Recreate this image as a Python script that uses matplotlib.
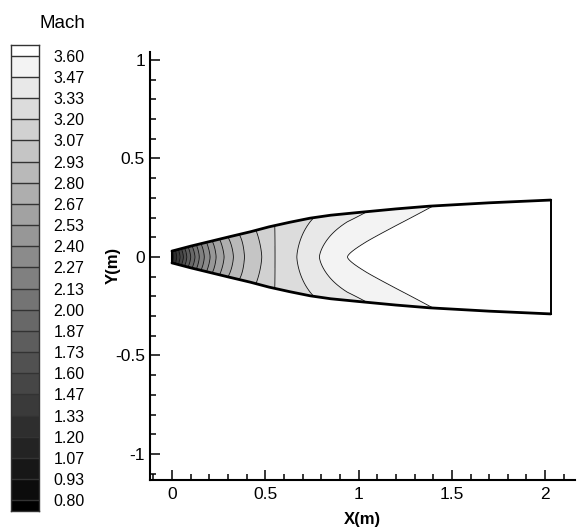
import numpy as np
import matplotlib
matplotlib.use('Agg')
import matplotlib.pyplot as plt
from matplotlib.colors import ListedColormap, BoundaryNorm
from matplotlib.ticker import MultipleLocator, FormatStrFormatter

plt.rcParams['font.family'] = ['Liberation Sans', 'DejaVu Sans']
plt.rcParams['axes.unicode_minus'] = False

# ---------------- data ----------------
mach_levels = [0.8000, 0.9333, 1.0667, 1.2000, 1.3333, 1.4667, 1.6000, 1.7333,
               1.8667, 2.0000, 2.1333, 2.2667, 2.4000, 2.5333, 2.6667, 2.8000,
               2.9333, 3.0667, 3.2000, 3.3333, 3.4667, 3.6000]
level_labels = ["0.80", "0.93", "1.07", "1.20", "1.33", "1.47", "1.60", "1.73",
                "1.87", "2.00", "2.13", "2.27", "2.40", "2.53", "2.67", "2.80",
                "2.93", "3.07", "3.20", "3.33", "3.47", "3.60"]

# nozzle wall (upper half, symmetric)
wall_x = [0.0, 0.10, 0.20, 0.30, 0.42, 0.52, 0.63, 0.74, 0.85, 1.00, 1.20, 1.38, 1.70, 2.03]
wall_y = [0.030, 0.055, 0.078, 0.101, 0.128, 0.153, 0.176, 0.197, 0.212, 0.226,
          0.244, 0.258, 0.275, 0.289]

# x where each contour level 1.20 ... 3.60 crosses the centreline / meets the wall
line_levels = mach_levels[3:]
center_cross_x = [0.007, 0.025, 0.043, 0.061, 0.079, 0.100, 0.123, 0.146, 0.173,
                  0.204, 0.236, 0.279, 0.329, 0.388, 0.481, 0.552, 0.669, 0.790, 0.940]
wall_cross_x = [0.003, 0.018, 0.034, 0.050, 0.067, 0.086, 0.107, 0.130, 0.155,
                0.185, 0.215, 0.255, 0.300, 0.360, 0.450, 0.550, 0.760, 1.045, 1.400]
inlet_mach = 1.13
outlet_mach = 3.95

x_ticks = [0, 0.5, 1, 1.5, 2]
y_ticks = [-1, -0.5, 0, 0.5, 1]

# ---------------- field on the nozzle grid ----------------
x_end = wall_x[-1]
xg = np.linspace(0.0, x_end, 600)
eta = np.linspace(-1.0, 1.0, 241)
h = np.interp(xg, wall_x, wall_y)
Mc = np.interp(xg, [0.0] + center_cross_x + [x_end], [inlet_mach] + line_levels + [outlet_mach])
Mw = np.interp(xg, [0.0] + wall_cross_x + [x_end], [inlet_mach] + line_levels + [outlet_mach])
XX, EE = np.meshgrid(xg, eta)
YY = EE * h[None, :]
MM = Mc[None, :] + (Mw - Mc)[None, :] * np.abs(EE) ** 1.5

# grey bands: black below lowest level, white above highest
n_bands = len(mach_levels) + 1
greys = [str(i / (n_bands - 1)) for i in range(n_bands)]
cmap = ListedColormap(greys[1:-1])
cmap.set_under(greys[0])
cmap.set_over(greys[-1])
norm = BoundaryNorm(mach_levels, cmap.N)

fig = plt.figure(figsize=(5.78, 5.31), dpi=100)
ax = fig.add_axes([150 / 578, 1 - 479.6 / 531, 425 / 578, 427.5 / 531])

ax.contourf(XX, YY, MM, levels=mach_levels, cmap=cmap, norm=norm, extend='both')
ax.contour(XX, YY, MM, levels=mach_levels, colors='#111111', linewidths=0.6)

wx = np.array(wall_x)
wy = np.array(wall_y)
ax.plot(wx, wy, color='black', lw=2.0, solid_capstyle='round')
ax.plot(wx, -wy, color='black', lw=2.0, solid_capstyle='round')
ax.plot([x_end, x_end], [-wy[-1], wy[-1]], color='black', lw=1.4)
ax.plot([wx[0], wx[0]], [-wy[0], wy[0]], color='black', lw=1.5)

ax.set_xlim(-0.118, 2.16)
ax.set_ylim(-1.13, 1.04)
ax.set_xticks(x_ticks)
ax.set_yticks(y_ticks)
ax.xaxis.set_major_formatter(FormatStrFormatter('%g'))
ax.yaxis.set_major_formatter(FormatStrFormatter('%g'))
ax.xaxis.set_minor_locator(MultipleLocator(0.1))
ax.yaxis.set_minor_locator(MultipleLocator(0.1))
ax.tick_params(which='both', direction='in', width=1.1, colors='black', labelsize=12.5)
ax.tick_params(which='major', length=7.2)
ax.tick_params(which='minor', length=4.3)
ax.tick_params(axis='y', pad=3.6)
ax.tick_params(axis='x', pad=5.5)
for s in ['top', 'right']:
    ax.spines[s].set_visible(False)
for s in ['left', 'bottom']:
    ax.spines[s].set_linewidth(1.5)
ax.set_facecolor('white')

ax.set_xlabel('X(m)', fontsize=12, fontweight='bold')
ax.set_ylabel('Y(m)', fontsize=12, fontweight='bold')
ax.xaxis.set_label_coords(0.5, -0.0945)
ax.xaxis.label.set_verticalalignment('center')
ax.yaxis.set_label_coords(-0.087, 0.5)
ax.yaxis.label.set_verticalalignment('center')

# ---------------- legend (colour bar) ----------------
step = mach_levels[1] - mach_levels[0]
cax = fig.add_axes([11 / 578, 1 - 511 / 531, 28 / 578, 466 / 531])
bounds = np.array([mach_levels[0] - step / 2] + mach_levels + [mach_levels[-1] + step / 2])
vals = np.arange(n_bands).reshape(-1, 1)
gcmap = ListedColormap(greys)
cax.pcolormesh([0, 1], bounds, vals, cmap=gcmap, vmin=-0.5, vmax=n_bands - 0.5)
cax.hlines(mach_levels, 0, 1, colors='#333333', linewidth=1.0)
cax.set_xlim(0, 1)
cax.set_ylim(bounds[0], bounds[-1])
cax.set_xticks([])
cax.yaxis.tick_right()
cax.set_yticks(mach_levels)
cax.set_yticklabels(level_labels)
cax.tick_params(axis='y', length=0, pad=10.5, labelsize=11.5)
for s in cax.spines.values():
    s.set_linewidth(1.0)
    s.set_color('#333333')

fig.text(62 / 578, 1 - 23 / 531, 'Mach', ha='center', va='center', fontsize=13.5)

fig.savefig('out.png', dpi=100, facecolor='white')
